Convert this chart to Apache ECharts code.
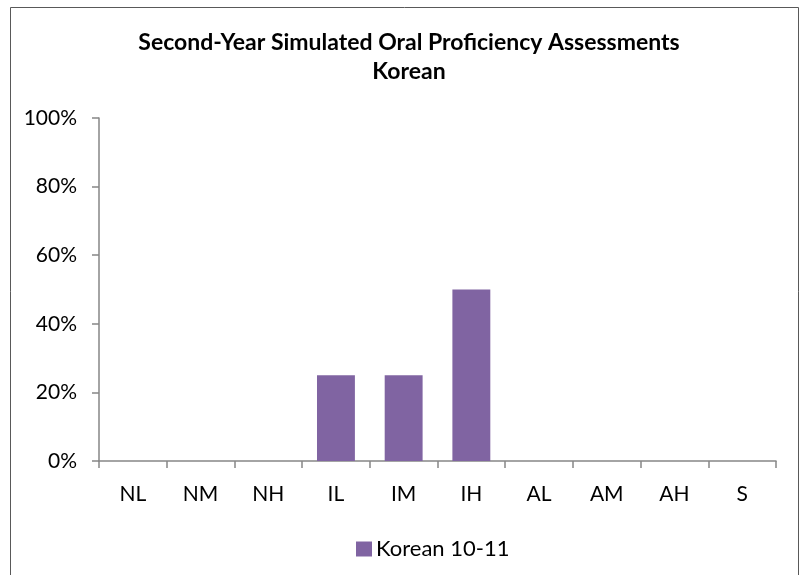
<!DOCTYPE html>
<html>
<head>
<meta charset="utf-8">
<script src="https://cdn.jsdelivr.net/npm/echarts@6/dist/echarts.min.js"></script>
<style>
  html, body { margin: 0; padding: 0; background: #fff; }
  #chart { width: 801px; height: 575px; }
</style>
</head>
<body>
<div id="chart"></div>
<script>
// data
const levels = ['NL', 'NM', 'NH', 'IL', 'IM', 'IH', 'AL', 'AM', 'AH', 'S']
const korean1011 = [0, 0, 0, 0.25, 0.25, 0.5, 0, 0, 0, 0]
const seriesName = 'Korean 10-11'
const titleLines = ['Second-Year Simulated Oral Proficiency Assessments', 'Korean']

const FONT = 'Lato, "Noto Sans", sans-serif'
const axisGray = '#868686'

const chart = echarts.init(document.getElementById('chart'))

chart.setOption({
  animation: false,
  backgroundColor: '#fff',
  textStyle: { fontFamily: FONT },
  title: {
    text: titleLines.join('\n'),
    left: 404,
    textAlign: 'center',
    top: 23,
    textStyle: {
      fontFamily: FONT,
      fontWeight: 'bold',
      fontSize: 23,
      lineHeight: 29,
      color: '#000'
    }
  },
  // 外框
  graphic: [{
    type: 'rect',
    shape: { x: 10.5, y: 7.5, width: 788, height: 620 },
    style: { fill: 'none', stroke: '#595959', lineWidth: 1 },
    silent: true
  }],
  legend: {
    data: [seriesName],
    left: 351,
    top: 533,
    itemWidth: 16,
    itemHeight: 15,
    icon: 'rect',
    textStyle: { fontFamily: FONT, fontSize: 22, color: '#000', padding: [0, 0, 0, -1] }
  },
  grid: {
    left: 99,
    right: 25,
    top: 118,
    bottom: 114,
    containLabel: false
  },
  xAxis: {
    type: 'category',
    data: levels,
    axisLine: { show: true, lineStyle: { color: axisGray, width: 1.5 } },
    axisTick: { show: true, length: 7, lineStyle: { color: axisGray, width: 1.5 } },
    axisLabel: { margin: 23, fontFamily: FONT, fontSize: 21, color: '#000' },
    splitLine: { show: false }
  },
  yAxis: {
    type: 'value',
    min: 0,
    max: 1,
    interval: 0.2,
    axisLine: { show: true, lineStyle: { color: axisGray, width: 1.5 } },
    axisTick: { show: true, length: 7, lineStyle: { color: axisGray, width: 1.5 } },
    axisLabel: {
      margin: 22,
      fontFamily: FONT,
      fontSize: 21,
      color: '#000',
      formatter: v => Math.round(v * 100) + '%'
    },
    splitLine: { show: false }
  },
  series: [{
    name: seriesName,
    type: 'bar',
    data: korean1011,
    barCategoryGap: '44%',
    itemStyle: { color: '#8064A2' }
  }]
})
</script>
</body>
</html>
